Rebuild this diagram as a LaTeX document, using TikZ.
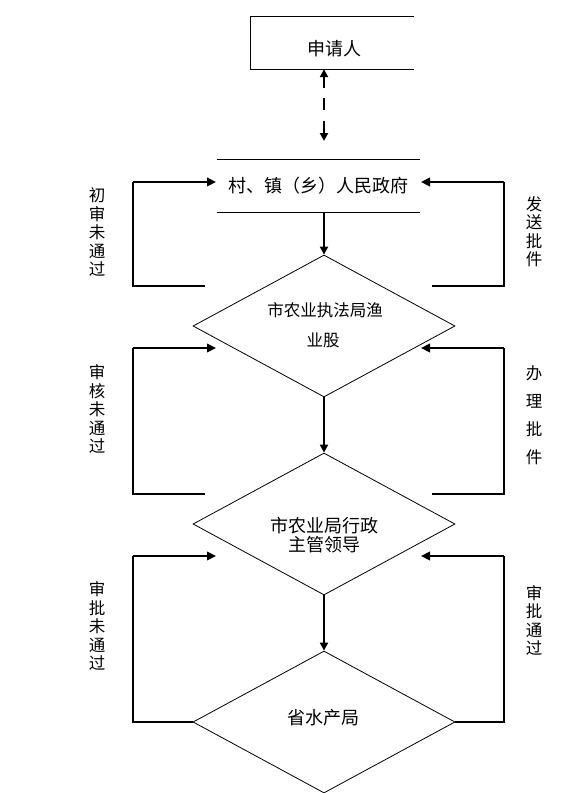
\documentclass[tikz,border=0pt]{standalone}
\usepackage{fontspec}
\newfontfamily\cjk{Noto Sans CJK SC}
\usetikzlibrary{shapes.geometric,arrows.meta}
\begin{document}
\begin{tikzpicture}[x=1pt,y=-1pt,
  boxline/.style={line width=1pt},
  flow/.style={line width=2pt,-{Triangle[length=8pt,width=8pt]}},
  back/.style={line width=2.6pt,-{Triangle[length=9pt,width=8.5pt]}},
  loopline/.style={line width=1.2pt},
  dia/.style={draw,shape=diamond,line width=0.8pt,minimum width=262pt,minimum height=142pt,inner sep=0pt},
  big/.style={font=\cjk\fontsize{18}{20}\selectfont,inner sep=0pt},
  mid/.style={font=\cjk\fontsize{16.5}{18}\selectfont,inner sep=0pt},
  vlabel/.style={font=\cjk\fontsize{16.5}{18.5}\selectfont,align=center,inner sep=0pt},
]
\useasboundingbox (0,0) rectangle (582,793);
\fill[white] (0,0) rectangle (582,793);

% applicant box (open on the right)
\node[minimum width=163pt,minimum height=52pt,inner sep=0pt] (app) at (332.5,43) {};
\draw[boxline] (app.north east) -- (app.north west) -- (app.south west) -- (app.south east);
\node[big] (apptext) at (334,49) {申请人};

% village / town government (top and bottom lines)
\node[big,minimum width=203pt,minimum height=52pt] (vil) at (318.5,186) {村、镇（乡）人民政府};
\draw[boxline] (vil.north west) -- (vil.north east);
\draw[boxline] (vil.south west) -- (vil.south east);

% diamonds
\node[dia] (d1) at (324,326) {};
\node[mid] (d1a) at (325,310) {市农业执法局渔};
\node[mid] (d1b) at (323,340) {业股};
\node[dia] (d2) at (324,524) {};
\node[big] (d2a) at (324,526) {市农业局行政};
\node[big] (d2b) at (324,545) {主管领导};
\node[dia] (d3) at (324,722) {};
\node[big] (d3a) at (323.5,718) {省水产局};

% dashed double arrow
\coordinate (dstart) at (app.south -| d1.north);
\coordinate (dend) at (324,141);
\draw[line width=2pt,{Triangle[length=8pt,width=8pt]}-{Triangle[length=8pt,width=8pt]},
  dash pattern=on 11pt off 10pt on 12pt off 11pt on 30pt] (dstart) -- (dend);

% main flow
\draw[flow] (vil.south -| d1.north) -- (d1.north);
\draw[flow] (d1.south) -- (d2.north);
\draw[flow] (d2.south) -- (d3.north);

% loops, level 1
\coordinate (l1e) at (205,286);
\coordinate (l1b) at (133,286);
\coordinate (l1t) at (133,182);
\coordinate (l1tip) at (216,182);
\draw[loopline] (l1e) -- (l1b) -- (l1t);
\draw[back] (l1t) -- (l1tip);
\coordinate (r1e) at (432,286);
\coordinate (r1b) at (504,286);
\coordinate (r1t) at (504,182);
\coordinate (r1tip) at (421,182);
\draw[loopline] (r1e) -- (r1b) -- (r1t);
\draw[back] (r1t) -- (r1tip);

% loops, level 2
\coordinate (l2e) at (205,494);
\coordinate (l2b) at (133,494);
\coordinate (l2t) at (133,348);
\coordinate (l2tip) at (216,348);
\draw[loopline] (l2e) -- (l2b) -- (l2t);
\draw[back] (l2t) -- (l2tip);
\coordinate (r2e) at (432,494);
\coordinate (r2b) at (504,494);
\coordinate (r2t) at (504,348);
\coordinate (r2tip) at (421,348);
\draw[loopline] (r2e) -- (r2b) -- (r2t);
\draw[back] (r2t) -- (r2tip);

% loops, level 3
\coordinate (l3b) at (133,722);
\coordinate (l3t) at (133,556);
\coordinate (l3tip) at (216,556);
\draw[loopline] (d3.west) -- (l3b) -- (l3t);
\draw[back] (l3t) -- (l3tip);
\coordinate (r3b) at (504,722);
\coordinate (r3t) at (504,556);
\coordinate (r3tip) at (421,556);
\draw[loopline] (d3.east) -- (r3b) -- (r3t);
\draw[back] (r3t) -- (r3tip);

% side labels
\node[vlabel] (lab1) at (97,232.5) {初\\审\\未\\通\\过};
\node[vlabel] (lab2) at (97,409) {审\\核\\未\\通\\过};
\node[vlabel] (lab3) at (97,626) {审\\批\\未\\通\\过};
\node[vlabel] (lab4) at (534,231.5) {发\\送\\批\\件};
\node[vlabel,font=\cjk\fontsize{16.5}{28}\selectfont] (lab5) at (534,415.5) {办\\理\\批\\件};
\node[vlabel] (lab6) at (534,620.5) {审\\批\\通\\过};
\end{tikzpicture}
\end{document}
